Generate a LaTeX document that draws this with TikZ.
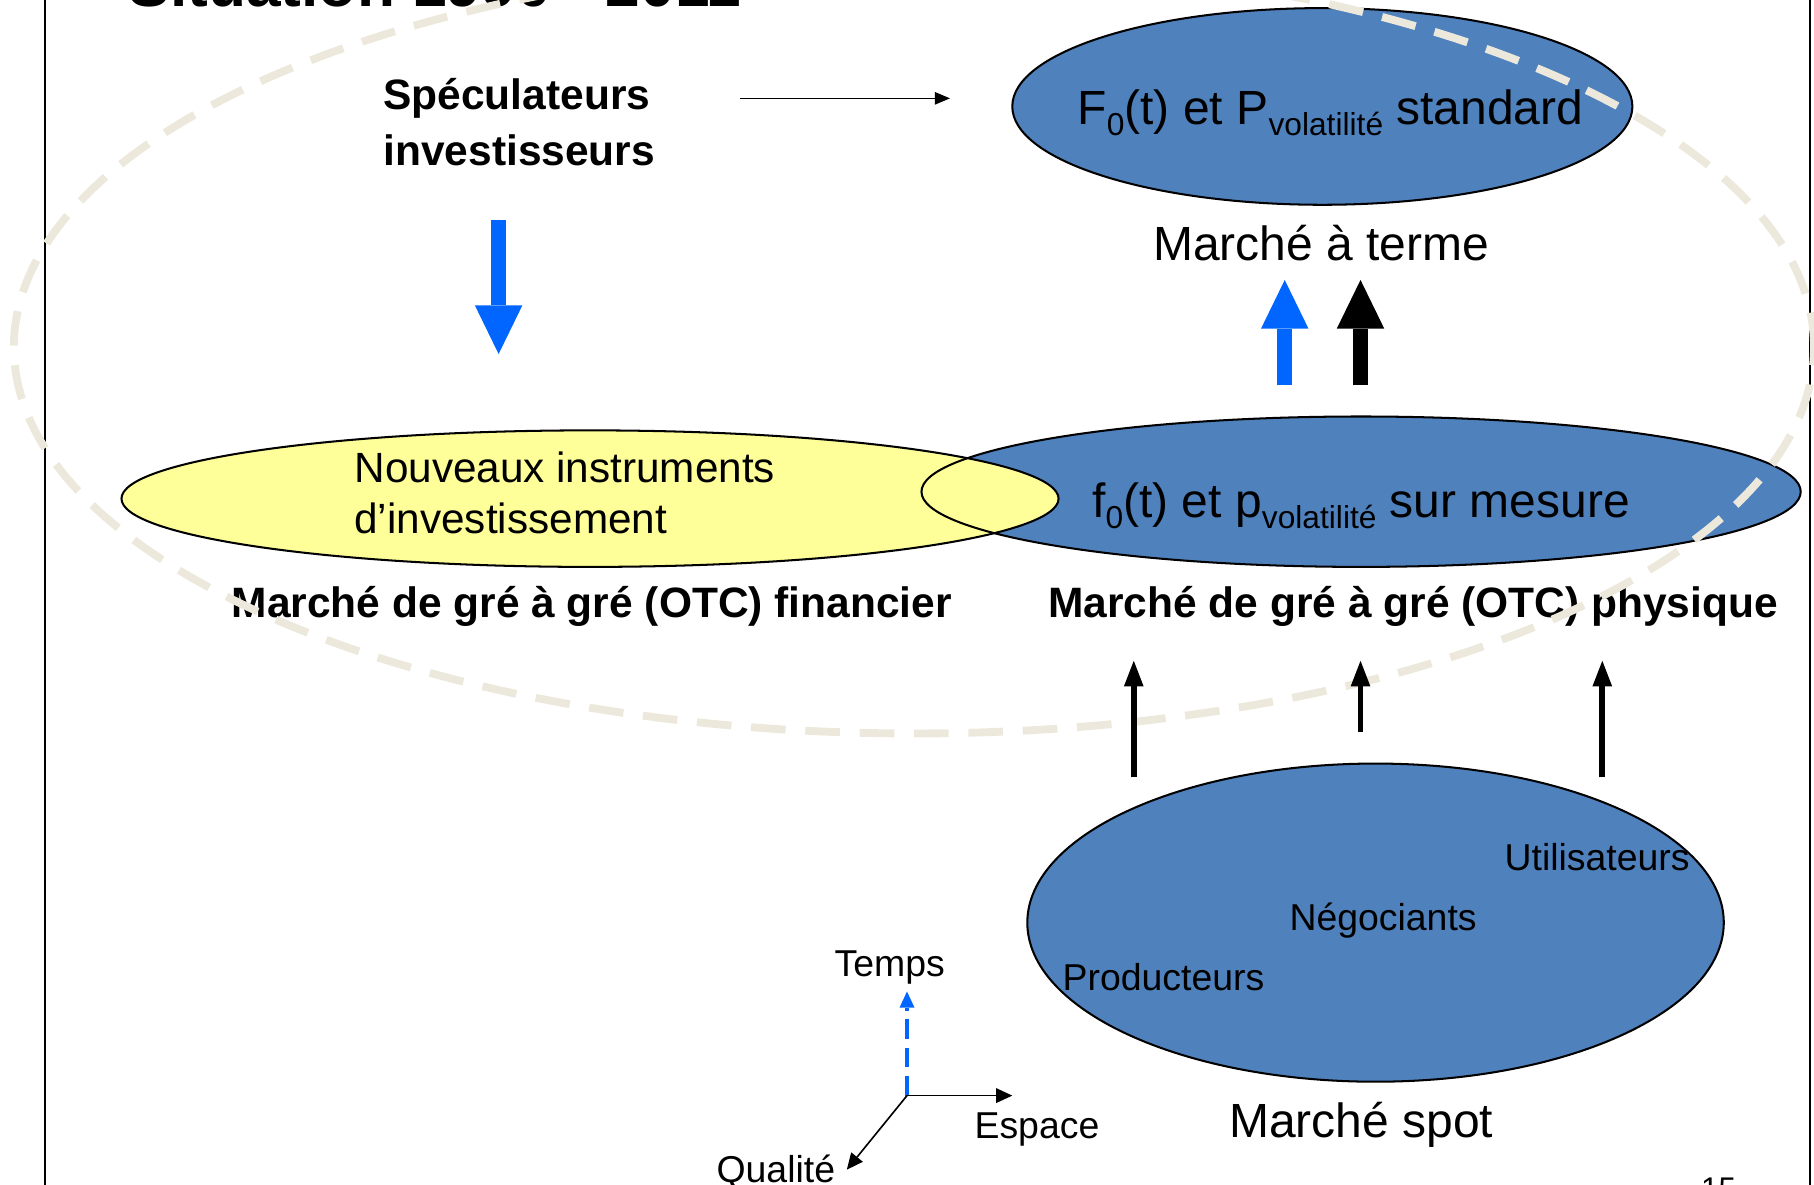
\documentclass[tikz,border=0pt]{standalone}
\usepackage{fontspec}
\setmainfont{Liberation Sans}
\usetikzlibrary{shapes.geometric,arrows.meta}

\definecolor{ellblue}{RGB}{79,129,189}
\definecolor{ellyellow}{RGB}{255,255,153}
\definecolor{arrblue}{RGB}{0,102,255}
\definecolor{ringtan}{RGB}{236,233,220}

\newcommand{\subtxt}[1]{\raisebox{-2.7pt}{\fontsize{7.8pt}{8pt}\selectfont #1}}

\begin{document}
\begin{tikzpicture}[thick,
    market node/.style={ellipse,draw,fill=ellblue,line width=0.5pt,inner sep=0pt},
    invest node/.style={ellipse,draw,fill=ellyellow,line width=0.5pt,inner sep=0pt},
    big text/.style={inner sep=0pt,font=\fontsize{11.8pt}{14pt}\selectfont},
    bold text/.style={inner sep=0pt,font=\bfseries\fontsize{10.45pt}{13.7pt}\selectfont},
    mid text/.style={inner sep=0pt,font=\fontsize{10.4pt}{12.5pt}\selectfont},
    small text/.style={inner sep=0pt,font=\fontsize{9.2pt}{11pt}\selectfont},
    fat arrow/.style={line width=0.13cm,-{Triangle[length=0.42cm,width=0.41cm,line width=0pt]}},
    thin arrow/.style={line width=0.05cm,-{Triangle[length=0.22cm,width=0.17cm,line width=0pt]}},
    axis arrow/.style={line width=0.4pt,-{Triangle[length=0.14cm,width=0.13cm,line width=0pt]}}]

  \useasboundingbox (0,0) rectangle (15.68,-10.24);

  \draw[line width=0.6pt] (0.39,0) -- (0.39,-10.24);
  \draw[line width=0.6pt] (15.645,0) -- (15.645,-10.24);

  \node[anchor=base west,inner sep=0pt,font=\bfseries\fontsize{15.3pt}{18pt}\selectfont] (title) at (1.10,-0.06) {Situation 1990 - 2011};
  \node[anchor=base west,inner sep=0pt,font=\fontsize{7.7pt}{9pt}\selectfont] (page) at (14.69,-10.37) {15};

  % marches
  \node[market node,minimum width=5.36cm,minimum height=1.70cm] (terme) at (11.43,-0.92) {};
  \node[big text,anchor=base] (termetxt) at (11.50,-1.08) {F\subtxt{0}(t) et P\subtxt{volatilité} standard};
  \node[big text,anchor=base] (termelbl) at (11.42,-2.25) {Marché à terme};

  \node[market node,draw=none,minimum width=7.60cm,minimum height=1.30cm] (otcphys) at (11.765,-4.25) {};
  \node[invest node,minimum width=8.10cm,minimum height=1.18cm] (otcfin) at (5.10,-4.31) {};
  \draw[line width=0.5pt] (otcphys.center) ellipse [x radius=3.80cm,y radius=0.65cm];
  \node[big text,anchor=base] (physTxt) at (11.765,-4.47) {f\subtxt{0}(t) et p\subtxt{volatilité} sur mesure};
  \node[mid text,anchor=base west,align=left] (newinst) at (3.05,-4.61) {Nouveaux instruments\\d’investissement};
  \node[bold text,anchor=base] (finlbl) at (5.115,-5.34) {Marché de gré à gré (OTC) financier};
  \node[bold text,anchor=base] (physlbl) at (12.215,-5.34) {Marché de gré à gré (OTC) physique};

  \node[market node,minimum width=6.02cm,minimum height=2.75cm] (spot) at (11.89,-7.975) {};
  \node[small text,anchor=base] (users) at (13.805,-7.52) {Utilisateurs};
  \node[small text,anchor=base] (traders) at (11.955,-8.04) {Négociants};
  \node[small text,anchor=base] (prod) at (10.057,-8.56) {Producteurs};
  \node[big text,anchor=base] (spotlbl) at (11.765,-9.83) {Marché spot};

  \node[bold text,anchor=base west,align=left] (spec) at (3.30,-1.43) {Spéculateurs\\investisseurs};

  \draw[ringtan,line width=0.068cm,dash pattern=on 0.30cm off 0.17cm] (7.90,-3.00) ellipse [x radius=7.78cm,y radius=3.34cm];

  % fleches
  \coordinate (specout) at (6.40,-0.85);
  \draw[line width=0.4pt,-{Triangle[length=0.13cm,width=0.11cm,line width=0pt]}] (specout) -- (specout -| terme.west) [shorten >=0.53cm];
  \coordinate (specdown) at (4.31,-1.90);
  \draw[fat arrow,arrblue] (specdown) -- ++(0,-1.16);
  \coordinate (upblue) at (11.105,-3.33);
  \coordinate (upblack) at (11.76,-3.33);
  \draw[fat arrow,arrblue] (upblue) -- ++(0,0.91);
  \draw[fat arrow] (upblack) -- ++(0,0.91);

  \coordinate (produp) at (9.80,-6.72);
  \coordinate (tradeup) at (11.76,-6.33);
  \coordinate (userup) at (13.85,-6.72);
  \draw[thin arrow] (produp) -- (produp |- physlbl.south) [shorten >=0.28cm];
  \draw[thin arrow] (tradeup) -- (tradeup |- physlbl.south) [shorten >=0.28cm];
  \draw[thin arrow] (userup) -- (userup |- physlbl.south) [shorten >=0.28cm];

  % axes
  \coordinate (orig) at (7.84,-9.47);
  \node[small text,anchor=base] (temps) at (7.69,-8.44) {Temps};
  \node[small text,anchor=base west] (espace) at (8.41,-9.84) {Espace};
  \node[small text,anchor=base west] (qualite) at (6.18,-10.22) {Qualité};
  \draw[axis arrow,arrblue,line width=0.9pt,dash pattern=on 0.17cm off 0.075cm] (orig) -- ++(0,0.90);
  \draw[axis arrow] (orig) -- ++(0.91,0);
  \draw[axis arrow] (orig) -- ++(-0.52,-0.64);
\end{tikzpicture}
\end{document}
